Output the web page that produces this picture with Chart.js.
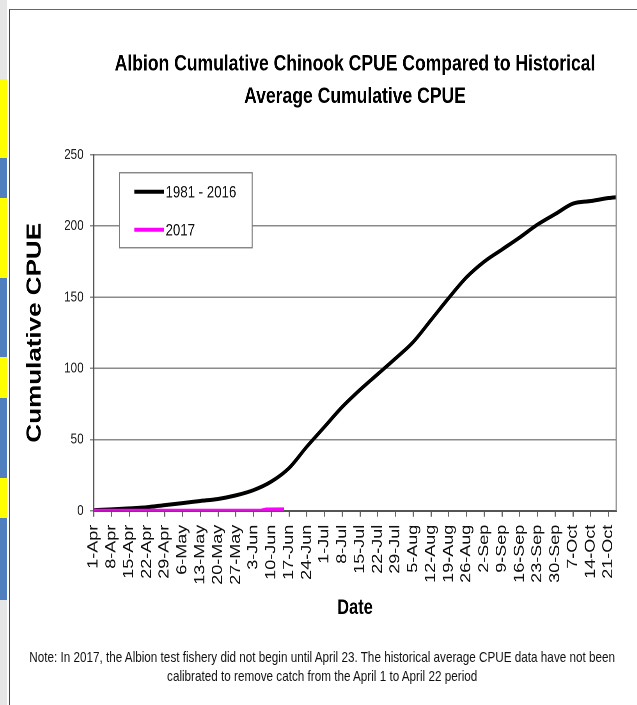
<!DOCTYPE html>
<html>
<head>
<meta charset="utf-8">
<script src="https://cdn.jsdelivr.net/npm/chart.js@4.4.1/dist/chart.umd.min.js"></script>
<style>
  html, body { margin:0; padding:0; background:#fff; }
  #page { position:relative; width:637px; height:705px; overflow:hidden; background:#fff; }
  #squish { position:absolute; left:0; top:0; width:817px; height:705px; transform:scaleX(0.78); transform-origin:0 0; }
  #chartBox { position:absolute; left:0; top:0; width:817px; height:705px; }
  #note { position:absolute; left:25px; width:776px; top:647px; text-align:center;
          font-family:"Liberation Sans", Arial, sans-serif; font-size:15px; line-height:19px; color:#111; }
  #frame { position:absolute; left:9px; top:9px; right:-10px; bottom:-10px; border-left:1.5px solid #444; border-top:1.5px solid #666; }
  .strip { position:absolute; left:0; width:7px; }
</style>
</head>
<body>
<div id="page">
  <div class="strip" style="top:0;height:79px;background:#e6e6e6;"></div>
  <div class="strip" style="top:79px;height:79px;background:#ffff00;"></div>
  <div class="strip" style="top:158px;height:40px;background:#4f7fbf;"></div>
  <div class="strip" style="top:198px;height:80px;background:#ffff00;"></div>
  <div class="strip" style="top:278px;height:79px;background:#4f7fbf;"></div>
  <div class="strip" style="top:357px;height:41px;background:#ffff00;"></div>
  <div class="strip" style="top:398px;height:80px;background:#4f7fbf;"></div>
  <div class="strip" style="top:478px;height:40px;background:#ffff00;"></div>
  <div class="strip" style="top:518px;height:82px;background:#4f7fbf;"></div>
  <div class="strip" style="top:600px;height:105px;background:#e6e6e6;"></div>
  <div id="frame"></div>
  <div id="squish">
    <div id="chartBox"><canvas id="c"></canvas></div>
    <div id="note">Note: In 2017, the Albion test fishery did not begin until April 23. The historical average CPUE data have not been<br>calibrated to remove catch from the April 1 to April 22 period</div>
  </div>
</div>
<script>
// ---- data (x = days after 1-Apr) ----
const tickLabels = ['1-Apr','8-Apr','15-Apr','22-Apr','29-Apr','6-May','13-May','20-May','27-May','3-Jun',
  '10-Jun','17-Jun','24-Jun','1-Jul','8-Jul','15-Jul','22-Jul','29-Jul','5-Aug','12-Aug',
  '19-Aug','26-Aug','2-Sep','9-Sep','16-Sep','23-Sep','30-Sep','7-Oct','14-Oct','21-Oct'];
const tickDays = [0,7,14,21,28,35,42,49,56,63,70,77,84,91,98,105,112,119,126,133,140,147,154,161,168,175,182,189,196,203];
const histDays = [0,7,14,21,28,35,42,49,56,63,70,77,84,91,98,105,112,119,126,133,140,147,154,161,168,175,182,189,196,203,206];
const histCPUE = [0.4,1.0,1.7,2.5,4.0,5.4,6.9,8.3,10.8,14.5,20.5,30,45,59,73,85,96,107,118.6,134,149.5,164,175,183.5,192,201,208.4,215.7,217.5,219.6,220.2];
const days2017 = [0,20,40,60,66,68,75];
const cpue2017 = [0,0,0,0,0.1,0.9,1.0];
const yTicks = [0,50,100,150,200,250];

const FONT = '"Liberation Sans", Arial, sans-serif';

const framePlugin = {
  id: 'frameLegend',
  afterDatasetsDraw(chart) {
    const {ctx, chartArea: a} = chart;
    ctx.save();
    ctx.strokeStyle = '#8c8c8c'; ctx.lineWidth = 1.5;
    ctx.beginPath(); ctx.moveTo(a.right, a.top); ctx.lineTo(a.right, a.bottom); ctx.stroke();
    const bx = a.left + 33, by = a.top + 18, bw = 170, bh = 75;
    ctx.fillStyle = '#fff'; ctx.fillRect(bx, by, bw, bh);
    ctx.strokeStyle = '#7a7a7a'; ctx.lineWidth = 1.3; ctx.strokeRect(bx, by, bw, bh);
    chart.data.datasets.forEach((ds, i) => {
      const y = by + 19 + i * 38;
      ctx.strokeStyle = ds.borderColor; ctx.lineWidth = 4;
      ctx.beginPath(); ctx.moveTo(bx + 19, y); ctx.lineTo(bx + 57, y); ctx.stroke();
      ctx.fillStyle = '#111'; ctx.font = '17px ' + FONT;
      ctx.textBaseline = 'middle'; ctx.textAlign = 'left';
      ctx.fillText(ds.label, bx + 59, y + 1);
    });
    ctx.restore();
  }
};

new Chart(document.getElementById('c'), {
  type: 'line',
  data: {
    datasets: [
      { label: '1981 - 2016', data: histDays.map((d, i) => ({x: d, y: histCPUE[i]})),
        borderColor: '#000000', borderWidth: 4, pointRadius: 0, cubicInterpolationMode: 'monotone', order: 2 },
      { label: '2017', data: days2017.map((d, i) => ({x: d, y: cpue2017[i]})),
        borderColor: '#ff00ff', borderWidth: 4, pointRadius: 0, order: 1 }
    ]
  },
  options: {
    responsive: true, maintainAspectRatio: false, animation: false, devicePixelRatio: 2,
    layout: { padding: { left: 25, right: 27, top: 0, bottom: 69 } },
    plugins: {
      legend: { display: false },
      tooltip: { enabled: false },
      title: { display: true, fullSize: false, text: ['Albion Cumulative Chinook CPUE Compared to Historical', 'Average Cumulative CPUE'],
        color: '#000', font: { family: FONT, size: 22.5, weight: 'bold', lineHeight: 1.45 },
        padding: { top: 48, bottom: 41.5 } }
    },
    scales: {
      x: {
        type: 'linear', min: 0, max: 206,
        afterBuildTicks: axis => { axis.ticks = tickDays.map(v => ({value: v})); },
        ticks: { autoSkip: false, minRotation: 90, maxRotation: 90, padding: 8,
          color: '#111', font: { family: FONT, size: 18 },
          callback: v => tickLabels[tickDays.indexOf(v)] },
        grid: { drawOnChartArea: false, drawTicks: true, tickLength: 6, color: '#666', lineWidth: 1.5 },
        border: { display: true, color: '#555', width: 2 },
        title: { display: true, text: 'Date', color: '#000', font: { family: FONT, size: 21, weight: 'bold', lineHeight: 1.2 },
          padding: { top: 3, bottom: 15 } }
      },
      y: {
        min: 0, max: 250,
        afterBuildTicks: axis => { axis.ticks = yTicks.map(v => ({value: v})); },
        ticks: { padding: 8, color: '#222', font: { family: FONT, size: 15 } },
        grid: { color: '#8a8a8a', lineWidth: 1.5, tickLength: 5, drawTicks: true },
        border: { display: true, color: '#555', width: 2 },
        title: { display: true, text: 'Cumulative CPUE', color: '#000', font: { family: FONT, size: 26, weight: 'bold', lineHeight: 1.2 },
          padding: { top: 4, bottom: 14 } }
      }
    }
  },
  plugins: [framePlugin]
});
</script>
</body>
</html>
